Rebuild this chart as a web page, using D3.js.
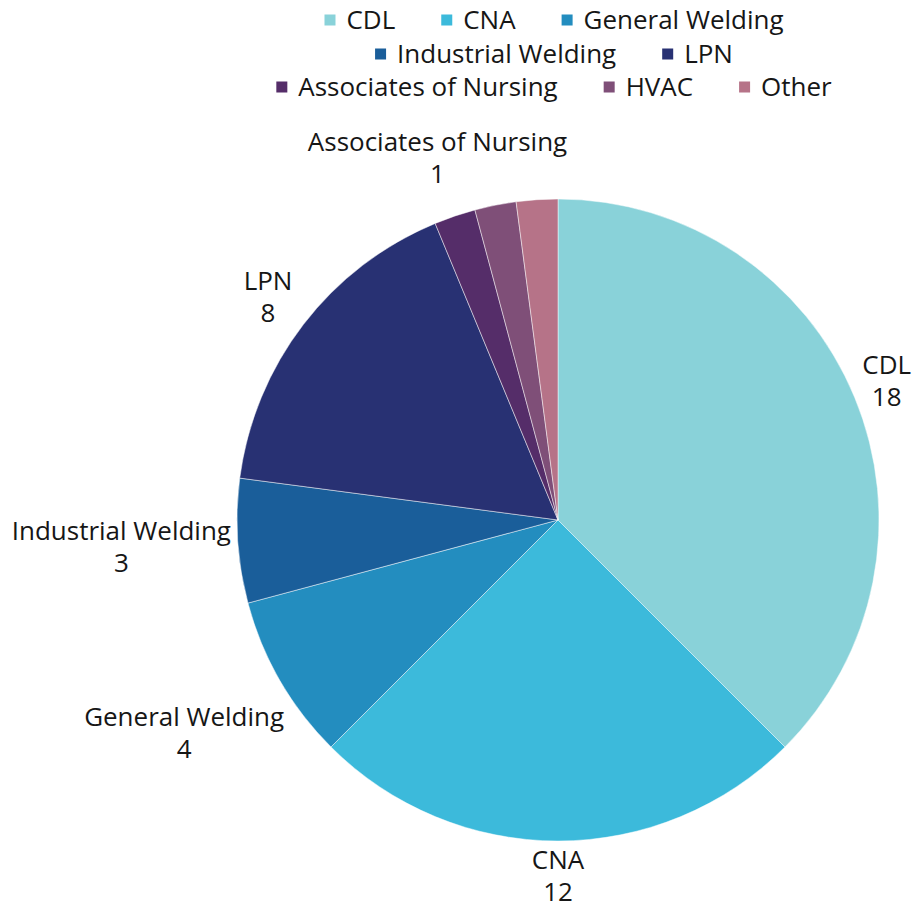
<!DOCTYPE html>
<html><head><meta charset="utf-8">
<script src="https://cdn.jsdelivr.net/npm/d3@7"></script>
<style>html,body{margin:0;padding:0;background:#fff;}svg{display:block;}</style>
</head><body>
<svg id="chart" width="923" height="902"></svg>
<script>
const categories = ["CDL","CNA","General Welding","Industrial Welding","LPN","Associates of Nursing","HVAC","Other"];
const values = [18,12,4,3,8,1,1,1];
const colors = ["#89D2D9","#3CBADB","#238DBF","#1A5E9A","#283173","#552D69","#7F4F78","#B67388"];
const showLabel = [true,true,true,true,true,true,false,false];
// label layout nudges (px), not data
const labelNudge = [[5,-3],[0,1],[-5,35],[-2,4],[-12,-7],[26,-26],[0,0],[0,0]];

const data = categories.map((c,i)=>({cat:c, value:values[i], color:colors[i], show:showLabel[i], nudge:labelNudge[i]}));
const svg = d3.select("#chart");
const cx = 558, cy = 520, R = 321;
const font = "'Open Sans', 'Noto Sans', sans-serif";

const probe = svg.append("text").attr("font-family", font).attr("font-size", 22).text("General Welding");
const pw = probe.node().getComputedTextLength();
probe.remove();
const fs = 22 * 200 / pw;

const pie = d3.pie().value(d=>d.value).sort(null);
const arcs = pie(data);
const arc = d3.arc().innerRadius(0).outerRadius(R);

const g = svg.append("g").attr("transform", `translate(${cx},${cy})`);
g.selectAll("path").data(arcs).join("path")
  .attr("d", arc).attr("fill", d=>d.data.color)
  .attr("stroke", "#fff").attr("stroke-width", 0.8).attr("stroke-opacity", 0.6);

const lineH = 32;
const boxH = 58;
arcs.filter(a=>a.data.show).forEach(a=>{
  const mid = (a.startAngle + a.endAngle)/2;
  const s = Math.sin(mid), c = Math.cos(mid);
  const pr = R + 5;
  const px = pr*s, py = -pr*c;
  const t = g.append("text").attr("font-family", font).attr("font-size", fs).attr("fill", "#161616").attr("text-anchor","middle");
  t.append("tspan").attr("x",0).text(a.data.cat);
  const w = t.node().getComputedTextLength();
  const bx = px + s*w/2 + a.data.nudge[0];
  const by = py - c*boxH/2 + a.data.nudge[1];
  t.attr("transform", `translate(${bx},${by})`);
  t.select("tspan").attr("y", -lineH/2 + fs*0.35);
  t.append("tspan").attr("x",0).attr("y", lineH/2 + fs*0.35).text(a.data.value);
});

const rows = [[0,1,2],[3,4],[5,6,7]];
const rowY = [20,54,87];
const sw = 11, gapST = 11, gapItem = 46, legCx = 554;
rows.forEach((row,ri)=>{
  const lg = svg.append("g");
  let x = 0;
  row.forEach(i=>{
    const it = lg.append("g").attr("transform", `translate(${x},0)`);
    it.append("rect").attr("x",0).attr("y",-sw/2).attr("width",sw).attr("height",sw).attr("fill",colors[i]);
    const tt = it.append("text").attr("x", sw+gapST).attr("y", fs*0.35).attr("font-family", font).attr("font-size", fs).attr("fill","#161616").text(categories[i]);
    x += sw + gapST + tt.node().getComputedTextLength() + gapItem;
  });
  const total = x - gapItem;
  lg.attr("transform", `translate(${legCx - total/2},${rowY[ri]})`);
});
</script>
</body></html>
